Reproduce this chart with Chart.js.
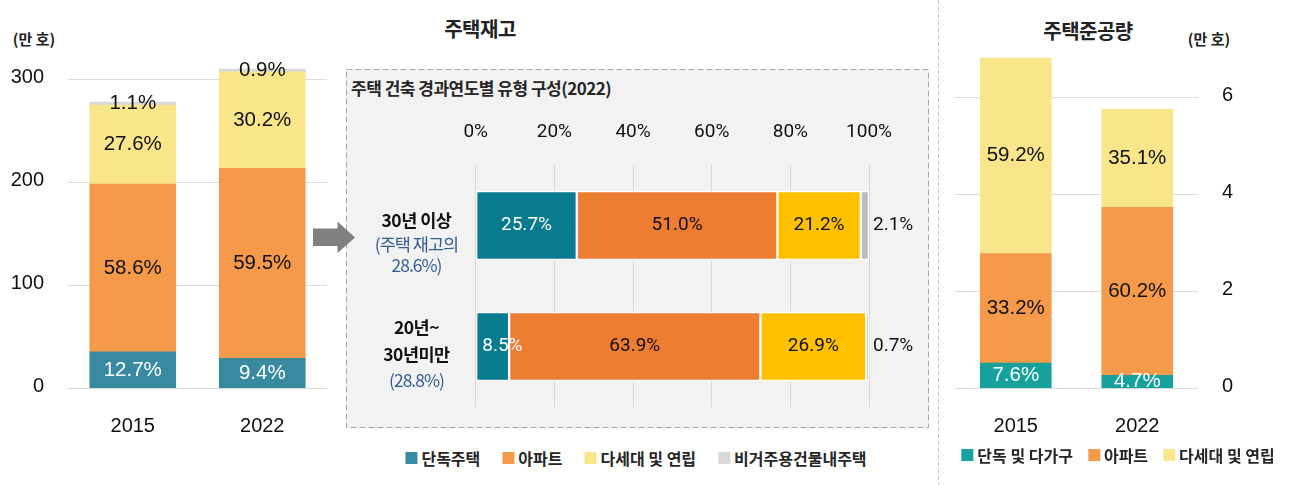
<!DOCTYPE html>
<html><head><meta charset="utf-8">
<script src="https://cdn.jsdelivr.net/npm/chart.js@4.4.1/dist/chart.umd.min.js"></script>
<style>
body{margin:0;width:1304px;height:485px;background:#fff;position:relative;overflow:hidden;font-family:"Liberation Sans","Noto Sans CJK KR",sans-serif;color:#1a1a1a;}
canvas{position:absolute;}
.t{position:absolute;white-space:nowrap;transform:translate(-50%,-50%);}
.legend{position:absolute;display:flex;align-items:center;transform:translate(-50%,-50%);white-space:nowrap;font-family:"Noto Sans CJK KR",sans-serif;font-size:16px;font-weight:700;color:#262626;}
.legend .it{display:flex;align-items:center;}
.legend .sw{width:12px;height:12px;margin-right:4px;}
</style></head>
<body>
<svg width="1304" height="485" style="position:absolute;left:0;top:0">
  <rect x="346.5" y="69.5" width="582" height="358" fill="#f2f2f2" stroke="#a6a6a6" stroke-dasharray="6 3"/>
  <line x1="938.5" y1="0" x2="938.5" y2="485" stroke="#c4c4c4" stroke-dasharray="4 3"/>
  <polygon points="313,228.5 337.5,228.5 337.5,221.5 355,237.5 337.5,253 337.5,246 313,246" fill="#808080"/>
</svg>
<div class="t" style="left:480px;top:28px;font-family:'Noto Sans CJK KR';font-weight:700;font-size:20px;letter-spacing:-0.5px;color:#222">주택재고</div>
<div class="t" style="left:1088px;top:30px;font-family:'Noto Sans CJK KR';font-weight:700;font-size:20px;letter-spacing:-0.5px;color:#222">주택준공량</div>
<div class="t" style="left:34px;top:38px;font-family:'Noto Sans CJK KR';font-weight:700;font-size:15px;color:#222">(만 호)</div>
<div class="t" style="left:1209px;top:38px;font-family:'Noto Sans CJK KR';font-weight:700;font-size:15px;color:#222">(만 호)</div>
<div style="position:absolute;left:351px;top:75px;font-family:'Noto Sans CJK KR';font-weight:700;font-size:17px;letter-spacing:-0.5px;color:#262626;white-space:nowrap">주택 건축 경과연도별 유형 구성(2022)</div>

<canvas id="cL" width="330" height="485" style="left:0;top:0"></canvas>
<canvas id="cM" width="584" height="360" style="left:346px;top:69px"></canvas>
<canvas id="cR" width="364" height="485" style="left:940px;top:0"></canvas>
<div class="legend" id="legM" style="left:636px;top:458px;gap:22px"></div>
<div class="legend" id="legR" style="left:1118px;top:455px;gap:15px"></div>

<script>
// ---------------- data ----------------
const stockYears = ['2015', '2022'];
const stockSeries = ['단독주택', '아파트', '다세대 및 연립', '비거주용건물내주택'];
const stockDetached  = [35.3, 29.1];
const stockApartment = [162.9, 184.5];
const stockMulti     = [76.7, 93.6];
const stockNonRes    = [3.1, 2.8];
const stockDetachedPct  = ['12.7%', '9.4%'];
const stockApartmentPct = ['58.6%', '59.5%'];
const stockMultiPct     = ['27.6%', '30.2%'];
const stockNonResPct    = ['1.1%', '0.9%'];

const ageGroups = [['30년 이상', '(주택 재고의', '28.6%)'], ['20년~', '30년미만', '(28.8%)']];
const ageSeries = ['단독주택', '아파트', '다세대 및 연립', '비거주용건물내주택'];
const ageDetached  = [25.7, 8.5];
const ageApartment = [51.0, 63.9];
const ageMulti     = [21.2, 26.9];
const ageNonRes    = [2.1, 0.7];
const ageTicks = ['0%', '20%', '40%', '60%', '80%', '100%'];

const compYears = ['2015', '2022'];
const compSeries = ['단독 및 다가구', '아파트', '다세대 및 연립'];
const compDetached  = [0.52, 0.27];
const compApartment = [2.26, 3.46];
const compMulti     = [4.03, 2.02];
const compDetachedPct  = ['7.6%', '4.7%'];
const compApartmentPct = ['33.2%', '60.2%'];
const compMultiPct     = ['59.2%', '35.1%'];

// ---------------- styles ----------------
const stockColors = ['#398aa0', '#f59a4b', '#f9e68b', '#d9d9d9'];
const ageColors   = ['#087b8f', '#ed7d31', '#ffc000', '#bdbdbd'];
const compColors  = ['#16a19d', '#f59a4b', '#f9e68b'];
const LAT = "'Liberation Sans','Noto Sans CJK KR',sans-serif";
const ROB = "Roboto,'Noto Sans CJK KR',sans-serif";
const KR  = "'Noto Sans CJK KR',sans-serif";

Chart.defaults.animation = false;
Chart.defaults.responsive = false;
Chart.defaults.devicePixelRatio = 1;

const segLabels = {
  id: 'segLabels',
  afterDatasetsDraw(chart, args, opts) {
    const ctx = chart.ctx, ca = chart.chartArea;
    const horiz = chart.options.indexAxis === 'y';
    ctx.save();
    if (opts.clip) { ctx.beginPath(); ctx.rect(ca.left, ca.top, ca.right - ca.left, ca.bottom - ca.top); ctx.clip(); }
    ctx.font = opts.font;
    ctx.textBaseline = 'middle';
    chart.data.datasets.forEach((ds, di) => {
      const meta = chart.getDatasetMeta(di);
      meta.data.forEach((el, i) => {
        const text = ds.valueLabels[i];
        const p = el.getProps(['x', 'y', 'base'], true);
        ctx.fillStyle = ds.labelColor;
        let x, y;
        if (!horiz) { x = p.x; y = (p.y + p.base) / 2; ctx.textAlign = 'center'; }
        else {
          y = p.y;
          if (ds.labelOutside) { x = ca.right + opts.outsideGap; ctx.textAlign = 'left'; }
          else {
            const w = ctx.measureText(text).width;
            const segW = Math.abs(p.x - p.base);
            if (w + 8 > segW) { x = Math.min(p.x, p.base) + 6; ctx.textAlign = 'left'; }
            else { x = (p.x + p.base) / 2; ctx.textAlign = 'center'; }
          }
        }
        ctx.fillText(text, x, y);
      });
    });
    ctx.restore();
  }
};

const rowLabels = {
  id: 'rowLabels',
  afterDraw(chart, args, opts) {
    const ctx = chart.ctx, ys = chart.scales.y;
    ctx.save();
    ctx.textAlign = 'center';
    ctx.textBaseline = 'middle';
    chart.data.labels.forEach((lines, i) => {
      const cy = ys.getPixelForValue(i);
      lines.forEach((ln, k) => {
        const main = k === 0 || (i === 1 && k === 1);
        ctx.font = main ? opts.font : opts.subFont;
        ctx.fillStyle = main ? opts.mainColor : opts.subColor;
        ctx.letterSpacing = main ? '-0.5px' : '-1px';
        ctx.fillText(ln, opts.x, cy + opts.offsets[i][k]);
      });
    });
    ctx.restore();
  }
};

function stackedBar(label, data, color, pct, labelColor, extra) {
  return Object.assign({ label, data, backgroundColor: color, valueLabels: pct, labelColor }, extra || {});
}

// ---------------- left: 주택재고 ----------------
new Chart(document.getElementById('cL'), {
  type: 'bar',
  data: {
    labels: stockYears,
    datasets: [
      stackedBar(stockSeries[0], stockDetached, stockColors[0], stockDetachedPct, '#ffffff'),
      stackedBar(stockSeries[1], stockApartment, stockColors[1], stockApartmentPct, '#111'),
      stackedBar(stockSeries[2], stockMulti, stockColors[2], stockMultiPct, '#111'),
      stackedBar(stockSeries[3], stockNonRes, stockColors[3], stockNonResPct, '#111')
    ]
  },
  options: {
    layout: { padding: { top: 48.4, right: 3, left: 0, bottom: 0 } },
    datasets: { bar: { barThickness: 86 } },
    plugins: { legend: { display: false }, tooltip: { enabled: false },
      segLabels: { font: "20.5px " + LAT, clip: true } },
    scales: {
      x: { stacked: true, grid: { display: false }, border: { display: false },
           ticks: { padding: 18, color: '#111', font: { family: LAT, size: 20 } },
           afterFit(s) { s.height = 96.7; } },
      y: { stacked: true, min: 0, max: 330,
           ticks: { stepSize: 100, includeBounds: false, padding: 24, color: '#111', labelOffset: -2, font: { family: LAT, size: 20 } },
           grid: { color: '#dcdcdc', drawTicks: false }, border: { display: false },
           afterFit(s) { s.width = 68; } }
    }
  },
  plugins: [segLabels]
});

// ---------------- middle: 경과연도별 ----------------
const mid = { borderColor: '#ffffff', borderWidth: 1.5, borderSkipped: false };
new Chart(document.getElementById('cM'), {
  type: 'bar',
  data: {
    labels: ageGroups,
    datasets: [
      stackedBar(ageSeries[0], ageDetached, ageColors[0], ageDetached.map(v => v.toFixed(1) + '%'), '#ffffff', mid),
      stackedBar(ageSeries[1], ageApartment, ageColors[1], ageApartment.map(v => v.toFixed(1) + '%'), '#111', mid),
      stackedBar(ageSeries[2], ageMulti, ageColors[2], ageMulti.map(v => v.toFixed(1) + '%'), '#111', mid),
      stackedBar(ageSeries[3], ageNonRes, ageColors[3], ageNonRes.map(v => v.toFixed(1) + '%'), '#111', Object.assign({ labelOutside: true }, mid))
    ]
  },
  options: {
    indexAxis: 'y',
    layout: { padding: { top: 0, left: 129.7, right: 61, bottom: 22 } },
    datasets: { bar: { barThickness: 69 } },
    plugins: { legend: { display: false }, tooltip: { enabled: false },
      segLabels: { font: "19px " + ROB, clip: false, outsideGap: 4 },
      rowLabels: { font: "bold 17.5px " + KR, subFont: "17.5px " + KR, mainColor: '#111', subColor: '#355e91', x: 70.5,
                   offsets: [[-5.5, 18.5, 39.5], [-19.5, 7.5, 33.5]] } },
    scales: {
      x: { position: 'top', stacked: true, min: 0, max: 100,
           ticks: { stepSize: 20, padding: 21, color: '#111', font: { family: ROB, size: 19 },
                    callback: (v, i) => ageTicks[i] },
           grid: { color: '#d9d9d9', drawTicks: false }, border: { display: false },
           afterFit(s) { s.height = 96; } },
      y: { stacked: true, display: false }
    }
  },
  plugins: [segLabels, rowLabels]
});

// ---------------- right: 주택준공량 ----------------
new Chart(document.getElementById('cR'), {
  type: 'bar',
  data: {
    labels: compYears,
    datasets: [
      stackedBar(compSeries[0], compDetached, compColors[0], compDetachedPct, '#ffffff'),
      stackedBar(compSeries[1], compApartment, compColors[1], compApartmentPct, '#111'),
      stackedBar(compSeries[2], compMulti, compColors[2], compMultiPct, '#111')
    ]
  },
  options: {
    layout: { padding: { top: 39.1, left: 15, right: 0, bottom: 0 } },
    datasets: { bar: { barThickness: 71 } },
    plugins: { legend: { display: false }, tooltip: { enabled: false },
      segLabels: { font: "20.5px " + LAT, clip: true } },
    scales: {
      x: { stacked: true, grid: { display: false }, border: { display: false },
           ticks: { padding: 18, color: '#111', font: { family: LAT, size: 20 } },
           afterFit(s) { s.height = 96.7; } },
      y: { position: 'right', stacked: true, min: 0, max: 7.2,
           ticks: { stepSize: 2, includeBounds: false, padding: 24, color: '#111', labelOffset: -2, font: { family: LAT, size: 20 } },
           grid: { color: '#dcdcdc', drawTicks: false }, border: { display: false },
           afterFit(s) { s.width = 106; } }
    }
  },
  plugins: [segLabels]
});

// ---------------- legends ----------------
function buildLegend(id, names, colors) {
  const el = document.getElementById(id);
  names.forEach((n, i) => {
    const it = document.createElement('div'); it.className = 'it';
    const sw = document.createElement('div'); sw.className = 'sw'; sw.style.background = colors[i];
    const tx = document.createElement('span'); tx.textContent = n;
    it.appendChild(sw); it.appendChild(tx); el.appendChild(it);
  });
}
buildLegend('legM', stockSeries, stockColors);
buildLegend('legR', compSeries, compColors);
</script>
</body></html>
